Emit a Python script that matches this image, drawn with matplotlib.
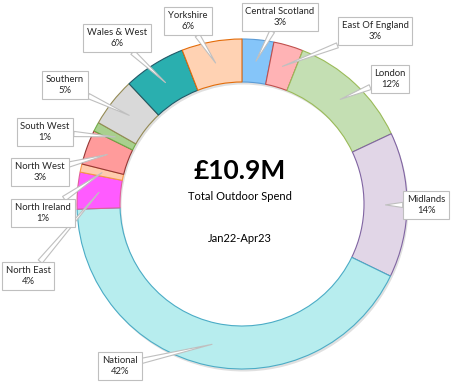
import matplotlib
matplotlib.use('Agg')
import matplotlib.pyplot as plt
import numpy as np

plt.rcParams['font.family'] = ['Lato', 'DejaVu Sans']

# Data
#--------------------------------------------------------------------
regions = ['Central Scotland', 'East Of England', 'London', 'Midlands', 'National',
           'North East', 'North Ireland', 'North West', 'South West', 'Southern',
           'Wales & West', 'Yorkshire']
share = [3.1, 2.9, 12.0, 14.2, 42.3, 3.6, 0.8, 3.4, 0.9, 4.8, 6.1, 5.9]
face_colors = ['#85C5F9', '#FFB3B5', '#C4DFB3', '#E1D6E7', '#B7EDEE', '#FF5BFF',
               '#FFCBAE', '#FF9B9B', '#A9D08E', '#D9D9D9', '#2AAFAF', '#FFD2B3']
edge_colors = ['#5B9BD5', '#C0504D', '#9BBB59', '#8064A2', '#4BACC6', '#E0609A',
               '#F79646', '#953735', '#70AD47', '#948A54', '#215968', '#E36C09']
total_text = '£10.9M'
subtitle = 'Total Outdoor Spend'
period = 'Jan22-Apr23'

# Layout (pixel coords, y from top)
#--------------------------------------------------------------------
W, H = 451, 385
cx, cy, R, ring = 242, 204, 165, 43
label_pos = [(280, 17), (375, 31), (390, 79), (426, 205), (120, 366), (28, 276),
             (43, 213), (40, 172), (45, 132), (65, 85), (117, 38), (188, 21)]

fig = plt.figure(figsize=(W / 100, H / 100), dpi=100)
ax = fig.add_axes([0, 0, 1, 1])

# faint shadow
ax.pie([1], center=(cx + 1.5, H - cy - 2.5), radius=R, colors=['#000000'],
       wedgeprops=dict(width=ring, alpha=0.12, lw=0), frame=True)

wedges, _ = ax.pie(share, center=(cx, H - cy), radius=R, startangle=90,
                   counterclock=False, colors=face_colors,
                   wedgeprops=dict(width=ring, lw=0.8), frame=True)
for w, ec in zip(wedges, edge_colors):
    w.set_edgecolor(ec)

ax.set_xlim(0, W)
ax.set_ylim(0, H)
ax.set_aspect('equal')
ax.axis('off')

# callout labels
r_mid = R - ring / 2
for w, name, v, (lx, ly) in zip(wedges, regions, share, label_pos):
    ang = np.deg2rad((w.theta1 + w.theta2) / 2)
    tip = (cx + r_mid * np.cos(ang), H - cy + r_mid * np.sin(ang))
    ax.annotate('%s\n%d%%' % (name, round(v)), xy=tip, xytext=(lx, H - ly),
                ha='center', va='center', fontsize=6.8, color='#262626',
                linespacing=1.35,
                bbox=dict(boxstyle='square,pad=0.4', fc='white', ec='#BFBFBF', lw=0.8),
                arrowprops=dict(arrowstyle='wedge,tail_width=0.55,shrink_factor=0.5',
                                fc='white', ec='#BFBFBF', lw=0.8,
                                shrinkA=0, shrinkB=0))

# centre text
ax.text(240, H - 171, total_text, ha='center', va='center', fontsize=19,
        fontweight='bold', color='black')
ax.text(240, H - 196, subtitle, ha='center', va='center', fontsize=8, color='black')
ax.text(240, H - 239, period, ha='center', va='center', fontsize=8, color='black')

fig.savefig('out.png', dpi=100)
